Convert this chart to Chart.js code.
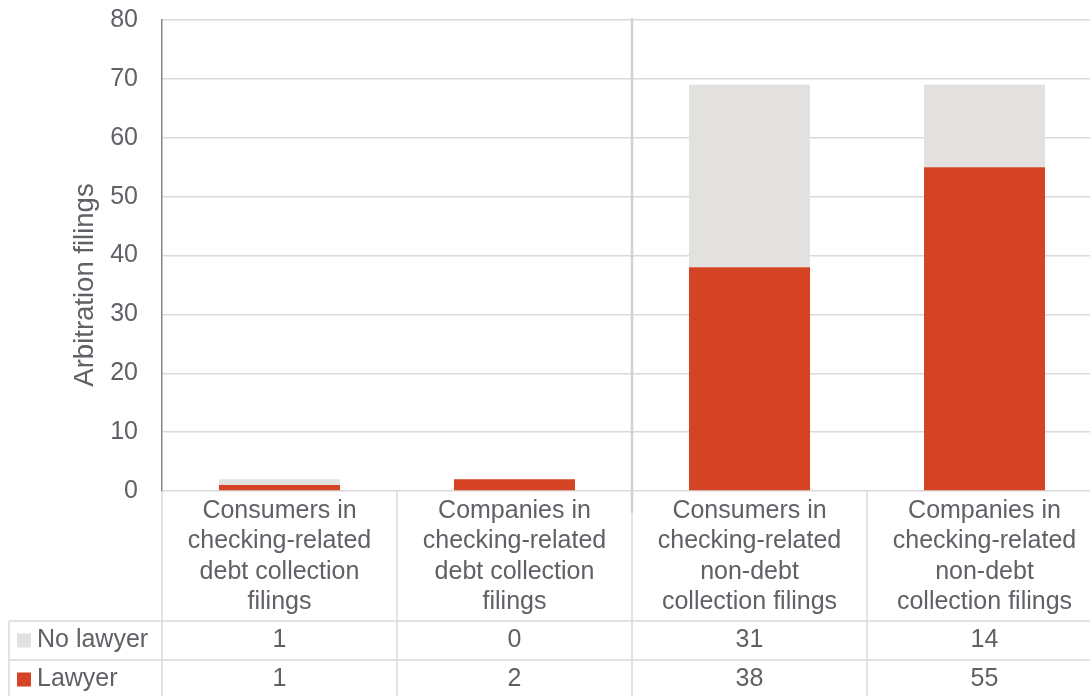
<!DOCTYPE html>
<html>
<head>
<meta charset="utf-8">
<script src="https://cdn.jsdelivr.net/npm/chart.js@4"></script>
<style>
  html, body { margin: 0; padding: 0; background: #fff; overflow: hidden; }
  #wrap { width: 1104px; height: 696px; }
</style>
</head>
<body>
<div id="wrap"><canvas id="MyChart" width="1104" height="696"></canvas></div>
<script>
const categories = [
    ["Consumers in", "checking-related", "debt collection", "filings"],
    ["Companies in", "checking-related", "debt collection", "filings"],
    ["Consumers in", "checking-related", "non-debt", "collection filings"],
    ["Companies in", "checking-related", "non-debt", "collection filings"]
];
const lawyer = [1, 2, 38, 55];
const noLawyer = [1, 0, 31, 14];
const yTicks = [0, 10, 20, 30, 40, 50, 60, 70, 80];

const FONT = "'Liberation Sans', Arial, sans-serif";
const TEXT = "#5f6166";
const RED = "#d34324";
const GREY = "#e2e1df";
const LINE = "#d9d9d9";

// draws the data table under the plot, the y title and the separator line
const tablePlugin = {
    id: "dataTable",
    afterDraw(chart) {
        const c = chart.ctx;
        const area = chart.chartArea;
        const x = chart.scales.x;
        const top = area.bottom;
        const headBottom = top + 130;
        const rowH = 39;
        const right = area.right;
        const edge = i => x.getPixelForValue(i - 0.5);

        c.save();
        c.strokeStyle = LINE;
        c.lineWidth = 1.5;
        c.beginPath();
        c.moveTo(9, headBottom); c.lineTo(right, headBottom);
        c.moveTo(9, headBottom + rowH); c.lineTo(right, headBottom + rowH);
        c.moveTo(9, headBottom); c.lineTo(9, headBottom + 2 * rowH + 5);
        for (let i = 0; i <= categories.length; i++) {
            c.moveTo(edge(i), top); c.lineTo(edge(i), headBottom + 2 * rowH + 5);
        }
        c.stroke();

        // separator between debt and non-debt groups
        c.strokeStyle = "#d0d0d0";
        c.lineWidth = 2.5;
        c.beginPath();
        c.moveTo(edge(2), area.top - 2);
        c.lineTo(edge(2), top + 22);
        c.stroke();

        c.fillStyle = TEXT;
        c.font = "25px " + FONT;
        c.textAlign = "center";
        c.textBaseline = "middle";
        categories.forEach((lines, i) => {
            const cx = x.getPixelForValue(i);
            lines.forEach((t, j) => c.fillText(t, cx, top + 20 + j * 30.5));
            c.fillText(String(noLawyer[i]), cx, headBottom + rowH / 2);
            c.fillText(String(lawyer[i]), cx, headBottom + rowH * 1.5);
        });

        // legend keys in the table
        const rows = [["No lawyer", GREY], ["Lawyer", RED]];
        c.textAlign = "left";
        rows.forEach((r, k) => {
            const cy = headBottom + rowH * (k + 0.5);
            c.fillStyle = r[1];
            c.fillRect(17, cy - 7, 14, 14);
            c.fillStyle = TEXT;
            c.fillText(r[0], 37, cy);
        });

        // y axis title
        c.translate(85, 285);
        c.rotate(-Math.PI / 2);
        c.textAlign = "center";
        c.font = "27.5px " + FONT;
        c.fillText("Arbitration filings", 0, 0);
        c.restore();
    }
};

const ctx = document.getElementById("MyChart").getContext("2d");

new Chart(ctx, {
    type: "bar",
    data: {
        labels: categories,
        datasets: [
            {
                label: "Lawyer",
                data: lawyer,
                backgroundColor: RED,
                barPercentage: 0.515,
                categoryPercentage: 1
            },
            {
                label: "No lawyer",
                data: noLawyer,
                backgroundColor: GREY,
                barPercentage: 0.515,
                categoryPercentage: 1
            }
        ]
    },
    options: {
        responsive: false,
        animation: false,
        layout: { padding: { top: 20, bottom: 205, left: 0, right: 2 } },
        plugins: {
            legend: { display: false },
            tooltip: { enabled: false }
        },
        scales: {
            x: { stacked: true, display: false },
            y: {
                stacked: true,
                min: 0,
                max: 80,
                afterBuildTicks: s => { s.ticks = yTicks.map(v => ({ value: v })); },
                afterFit: s => {
                    s.width = 162;
                    s.paddingTop = 0;
                    s.paddingBottom = 0;
                },
                ticks: { font: { family: FONT, size: 25 }, color: TEXT, padding: 24 },
                grid: { color: LINE, lineWidth: 1.5, drawTicks: false },
                border: { color: "#868686", width: 1.5 }
            }
        }
    },
    plugins: [tablePlugin]
});
</script>
</body>
</html>
